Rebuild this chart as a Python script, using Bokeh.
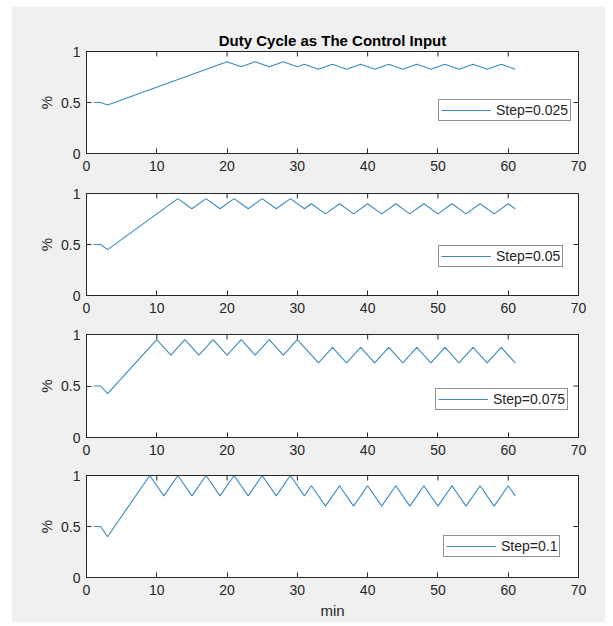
import math
from bokeh.plotting import figure
from bokeh.models import FixedTicker, Legend, LegendItem, Range1d
from bokeh.layouts import column
from bokeh.embed import file_html
from bokeh.resources import INLINE

# ---------------- data ----------------
title_text = "Duty Cycle as The Control Input"
x_label = "min"
y_label = "%"
x_min, x_max = 0, 70
y_min, y_max = 0, 1
x_ticks = [0, 10, 20, 30, 40, 50, 60, 70]
x_tick_labels = ["0", "10", "20", "30", "40", "50", "60", "70"]
y_ticks = [0, 0.5, 1]
y_tick_labels = ["0", "0.5", "1"]

series_labels = ["Step=0.025", "Step=0.05", "Step=0.075", "Step=0.1"]

x_step_025 = [1, 2, 3, 20, 22, 24, 26, 28, 30, 31, 33, 35, 37, 39, 41, 43, 45,
              47, 49, 51, 53, 55, 57, 59, 61]
y_step_025 = [0.5, 0.5, 0.475, 0.9, 0.85, 0.9, 0.85, 0.9, 0.85, 0.875, 0.825,
              0.875, 0.825, 0.875, 0.825, 0.875, 0.825, 0.875, 0.825, 0.875,
              0.825, 0.875, 0.825, 0.875, 0.825]

x_step_05 = [1, 2, 3, 13, 15, 17, 19, 21, 23, 25, 27, 29, 31, 32, 34, 36, 38,
             40, 42, 44, 46, 48, 50, 52, 54, 56, 58, 60, 61]
y_step_05 = [0.5, 0.5, 0.45, 0.95, 0.85, 0.95, 0.85, 0.95, 0.85, 0.95, 0.85,
             0.95, 0.85, 0.9, 0.8, 0.9, 0.8, 0.9, 0.8, 0.9, 0.8, 0.9, 0.8, 0.9,
             0.8, 0.9, 0.8, 0.9, 0.85]

x_step_075 = [1, 2, 3, 10, 12, 14, 16, 18, 20, 22, 24, 26, 28, 30, 33, 35, 37,
              39, 41, 43, 45, 47, 49, 51, 53, 55, 57, 59, 61]
y_step_075 = [0.5, 0.5, 0.425, 0.95, 0.8, 0.95, 0.8, 0.95, 0.8, 0.95, 0.8,
              0.95, 0.8, 0.95, 0.725, 0.875, 0.725, 0.875, 0.725, 0.875, 0.725,
              0.875, 0.725, 0.875, 0.725, 0.875, 0.725, 0.875, 0.725]

x_step_1 = [1, 2, 3, 9, 11, 13, 15, 17, 19, 21, 23, 25, 27, 29, 31, 32, 34, 36,
            38, 40, 42, 44, 46, 48, 50, 52, 54, 56, 58, 60, 61]
y_step_1 = [0.5, 0.5, 0.4, 1.0, 0.8, 1.0, 0.8, 1.0, 0.8, 1.0, 0.8, 1.0, 0.8,
            1.0, 0.8, 0.9, 0.7, 0.9, 0.7, 0.9, 0.7, 0.9, 0.7, 0.9, 0.7, 0.9,
            0.7, 0.9, 0.7, 0.9, 0.8]

# ---------------- style ----------------
FONT = "Liberation Sans"
LINE_COLOR = "#3a89c0"
AX_COLOR = "#262626"
BG = "#f0f0f0"
TICK_FS = "14px"


def style_axis(ax, ticks, labels, standoff):
    ax.ticker = FixedTicker(ticks=ticks)
    ax.major_label_overrides = {t: l for t, l in zip(ticks, labels)}
    ax.major_tick_in = 5
    ax.major_tick_out = 0
    ax.minor_tick_in = 0
    ax.minor_tick_out = 0
    ax.axis_line_color = AX_COLOR
    ax.major_tick_line_color = AX_COLOR
    ax.major_label_text_font = FONT
    ax.major_label_text_font_size = TICK_FS
    ax.major_label_text_color = AX_COLOR
    ax.major_label_standoff = standoff


def make_panel(xs, ys, label, frame_h, top, bottom, legend_loc,
               show_xlabel=False, title=None):
    p = figure(frame_width=492, frame_height=frame_h,
               min_border_left=74, min_border_right=27,
               min_border_top=top, min_border_bottom=bottom,
               x_range=Range1d(x_min, x_max), y_range=Range1d(y_min, y_max),
               output_backend="svg", toolbar_location=None,
               background_fill_color="white", border_fill_color=BG,
               outline_line_color=AX_COLOR, outline_line_width=1)
    p.grid.visible = False

    r = p.line(xs, ys, line_color=LINE_COLOR, line_width=1.1)

    xax = p.xaxis[0]
    yax = p.yaxis[0]
    style_axis(xax, x_ticks, x_tick_labels, 7)
    style_axis(yax, y_ticks, y_tick_labels, 6)

    # inward tick marks on the top and right edges of the box
    p.scatter(x=x_ticks, y=[y_max] * len(x_ticks), marker="dash",
              angle=math.pi / 2, size=10, line_color=AX_COLOR, line_width=1)
    p.scatter(x=[x_max] * len(y_ticks), y=y_ticks, marker="dash",
              size=10, line_color=AX_COLOR, line_width=1)

    yax.axis_label = y_label
    yax.axis_label_text_font = FONT
    yax.axis_label_text_font_size = "15px"
    yax.axis_label_text_font_style = "normal"
    yax.axis_label_text_color = AX_COLOR
    yax.axis_label_standoff = 3

    if show_xlabel:
        xax.axis_label = x_label
        xax.axis_label_text_font = FONT
        xax.axis_label_text_font_size = "15px"
        xax.axis_label_text_font_style = "normal"
        xax.axis_label_text_color = AX_COLOR
        xax.axis_label_standoff = 4

    if title is not None:
        p.title.text = title
        p.title.align = "center"
        p.title.text_font = FONT
        p.title.text_font_size = "15px"
        p.title.text_font_style = "bold"
        p.title.text_color = "#000000"
        p.title.standoff = 5

    legend = Legend(items=[LegendItem(label=label, renderers=[r])],
                    location=legend_loc, margin=0, padding=2, spacing=0,
                    glyph_width=50, glyph_height=14, label_height=14,
                    label_standoff=5,
                    label_text_font=FONT, label_text_font_size="14px",
                    label_text_color=AX_COLOR,
                    border_line_color=AX_COLOR, border_line_width=1,
                    background_fill_color="white", background_fill_alpha=1)
    p.add_layout(legend)
    return p


p1 = make_panel(x_step_025, y_step_025, series_labels[0], 102, 44, 24,
                (352, 32), title=title_text)
p2 = make_panel(x_step_05, y_step_05, series_labels[1], 102, 16, 24, (352, 28))
p3 = make_panel(x_step_075, y_step_075, series_labels[2], 103, 15, 24, (349, 27))
p4 = make_panel(x_step_1, y_step_1, series_labels[3], 102, 14, 45, (357, 20),
                show_xlabel=True)

layout = column(p1, p2, p3, p4, spacing=0, margin=(7, 0, 0, 12),
                styles={"background-color": BG})

open("out.html", "w").write(file_html(layout, INLINE))
